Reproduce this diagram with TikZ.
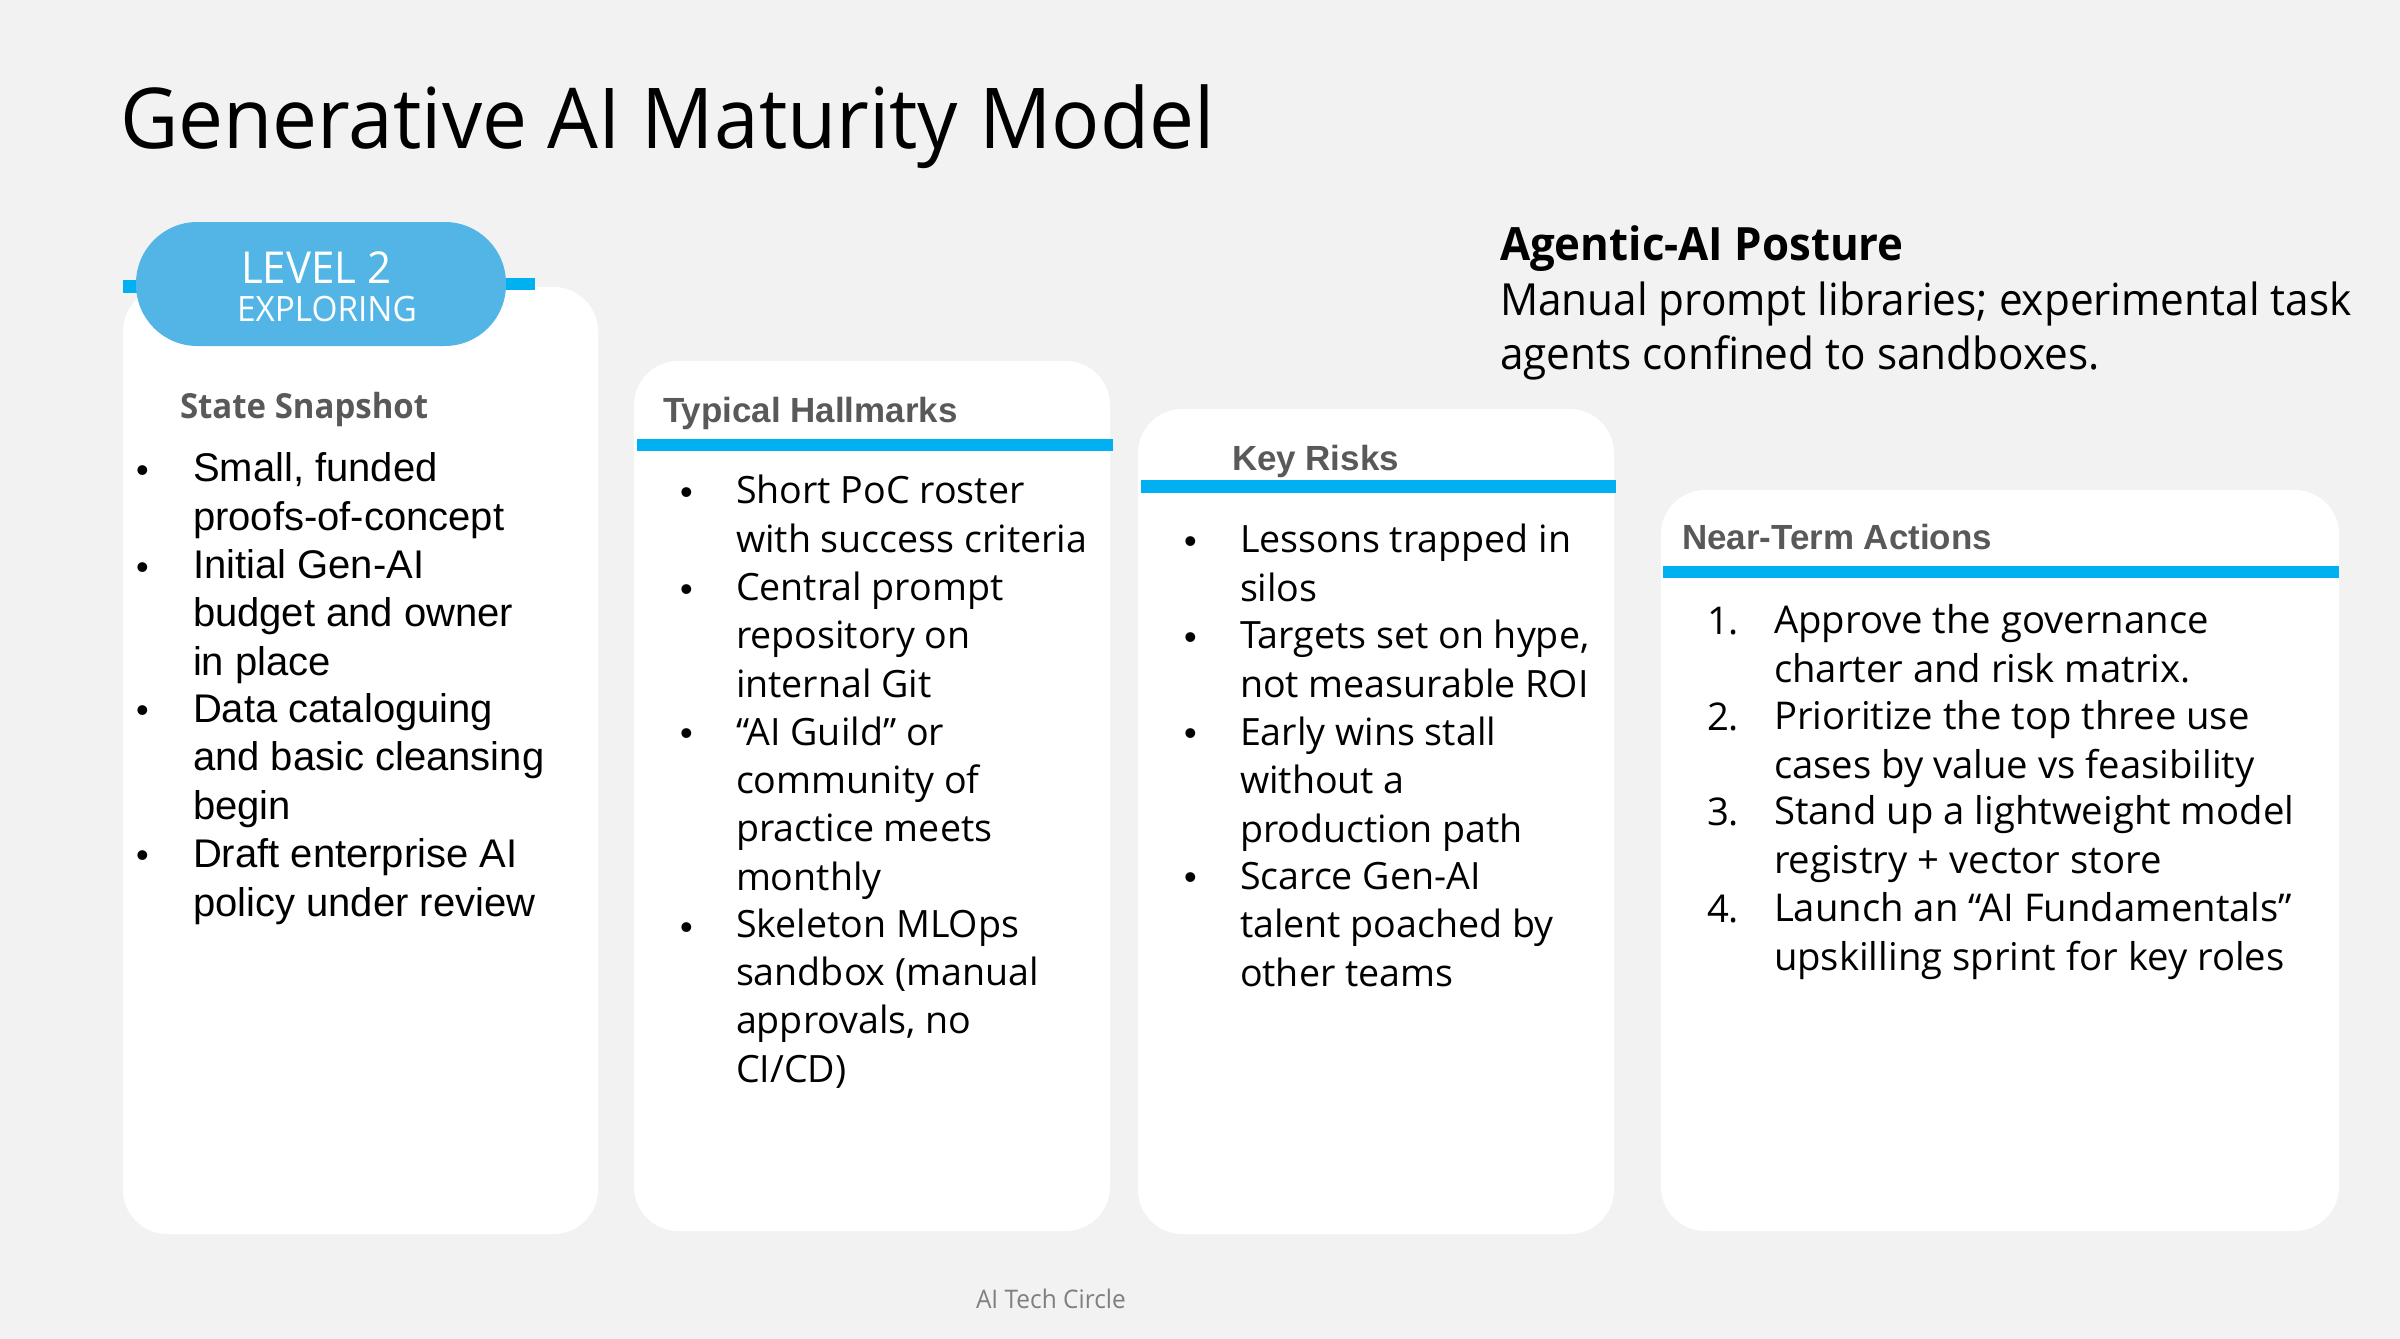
\documentclass[tikz,border=0pt]{standalone}
\usepackage{fontspec}
\setmainfont{Open Sans}[FakeStretch=0.955]
\newfontfamily\arialf{Liberation Sans}
\newfontfamily\bodyf{Open Sans}
\definecolor{pagebg}{HTML}{F2F2F2}
\definecolor{barblue}{HTML}{00B0F0}
\definecolor{pillblue}{HTML}{52B5E6}
\definecolor{headgray}{HTML}{595959}
\definecolor{footgray}{HTML}{7F7F7F}
\tikzset{
  x=0.75pt,y=-0.75pt,
  every node/.style={inner sep=0pt,outer sep=0pt},
  bodytext/.style={anchor=base west,align=left,text=black,font=\bodyf\fontsize{28.2}{36.2}\selectfont},
  widetext/.style={anchor=base west,align=left,text=black,font=\bodyf\fontsize{28.7}{36.1}\selectfont},
  arialtext/.style={anchor=base west,align=left,text=black,font=\arialf\fontsize{30}{36.2}\selectfont},
  bulletmark/.style={anchor=base west,text=black,font=\arialf\fontsize{27}{36}\selectfont},
  cardhead/.style={anchor=base west,text=headgray,font=\arialf\bfseries\fontsize{26.2}{30}\selectfont},
  bar/.style={fill=barblue},
  cardfill/.style={fill=white},
}
\newcommand{\cardshape}[4]{%
  \fill[cardfill] ({#1+44},#2) -- ({#3-44},#2)
    .. controls ({#3-20},#2) and (#3,{#2+20}) .. (#3,{#2+44})
    -- (#3,{#4-44})
    .. controls (#3,{#4-20}) and ({#3-20},#4) .. ({#3-44},#4)
    -- ({#1+44},#4)
    .. controls ({#1+20},#4) and (#1,{#4-20}) .. (#1,{#4-44})
    -- (#1,{#2+44})
    .. controls (#1,{#2+20}) and ({#1+20},#2) .. ({#1+44},#2) -- cycle;}
\begin{document}
\begin{tikzpicture}
\fill[pagebg] (0,0) rectangle (2400,1339);
\useasboundingbox (0,0) rectangle (2400,1339);

% title and posture
\node[anchor=base west,font=\fontsize{63}{76}\selectfont] (title) at (120,148) {Generative AI Maturity Model};
\node[anchor=base west,font=\fontsize{34.4}{40}\selectfont\bfseries] (posturehead) at (1500,260) {Agentic-AI Posture};
\node[anchor=base west,font=\fontsize{33.2}{40}\selectfont] (posture1) at (1500,315) {Manual prompt libraries; experimental task};
\node[anchor=base west,font=\fontsize{33.2}{40}\selectfont] (posture2) at (1500,369) {agents confined to sandboxes.};

% cards
\cardshape{123}{287}{598}{1234}
\cardshape{634}{361}{1110}{1231}
\cardshape{1138}{409}{1614}{1234}
\cardshape{1661}{490}{2339}{1231}

% bars
\fill[bar] (123,280) rectangle (140,293);
\fill[bar] (500,278) rectangle (535,290);
\fill[bar] (637,439) rectangle (1113,451);
\fill[bar] (1141,480) rectangle (1616,493);
\fill[bar] (1663,566) rectangle (2339,578);

% level pill
\fill[pillblue,rounded corners=46pt] (136,222) rectangle (506,346);
\node[anchor=base west,text=white,font=\fontsize{33}{40}\selectfont] (level) at (241,283) {LEVEL 2};
\node[anchor=base west,text=white,font=\fontsize{26.2}{32}\selectfont] (exploring) at (237,321) {EXPLORING};

% headings
\node[anchor=base west,text=headgray,font=\bfseries\fontsize{25.9}{30}\selectfont] (h1) at (180,418) {State Snapshot};
\node[cardhead] (h2) at (663,422) {Typical Hallmarks};
\node[cardhead] (h3) at (1232,470) {Key Risks};
\node[cardhead] (h4) at (1682,549) {Near-Term Actions};

% card 1 (Arial)
\node[bulletmark] (b1a) at (136,482) {•};
\node[arialtext] (t1a) at (193,530) {Small, funded\\proofs-of-concept};
\node[bulletmark] (b1b) at (136,579) {•};
\node[arialtext] (t1b) at (193,675) {Initial Gen-AI\\budget and owner\\in place};
\node[bulletmark] (b1c) at (136,722) {•};
\node[arialtext] (t1c) at (193,819) {Data cataloguing\\and basic cleansing\\begin};
\node[bulletmark] (b1d) at (136,867) {•};
\node[arialtext] (t1d) at (193,916) {Draft enterprise AI\\policy under review};

% card 2
\node[bulletmark] (b2a) at (680,504) {•};
\node[bodytext] (t2a) at (736,552) {Short PoC roster\\with success criteria};
\node[bulletmark] (b2b) at (680,601) {•};
\node[bodytext] (t2b) at (736,697) {Central prompt\\repository on\\internal Git};
\node[bulletmark] (b2c) at (680,745) {•};
\node[bodytext] (t2c) at (736,890) {“AI Guild” or\\community of\\practice meets\\monthly};
\node[bulletmark] (b2d) at (680,939) {•};
\node[bodytext] (t2d) at (736,1082) {Skeleton MLOps\\sandbox (manual\\approvals, no\\CI/CD)};

% card 3
\node[bulletmark] (b3a) at (1184,553) {•};
\node[bodytext] (t3a) at (1240,601) {Lessons trapped in\\silos};
\node[bulletmark] (b3b) at (1184,649) {•};
\node[bodytext] (t3b) at (1240,697) {Targets set on hype,\\not measurable ROI};
\node[bulletmark] (b3c) at (1184,745) {•};
\node[bodytext] (t3c) at (1240,842) {Early wins stall\\without a\\production path};
\node[bulletmark] (b3d) at (1184,889) {•};
\node[bodytext] (t3d) at (1240,986) {Scarce Gen-AI\\talent poached by\\other teams};

% card 4
\node[widetext] (n4a) at (1707,634) {1.};
\node[widetext] (t4a) at (1774,682) {Approve the governance\\charter and risk matrix.};
\node[widetext] (n4b) at (1707,730) {2.};
\node[widetext] (t4b) at (1774,778) {Prioritize the top three use\\cases by value vs feasibility};
\node[widetext] (n4c) at (1707,825) {3.};
\node[widetext] (t4c) at (1774,873) {Stand up a lightweight model\\registry + vector store};
\node[widetext] (n4d) at (1707,922) {4.};
\node[widetext] (t4d) at (1774,970) {Launch an “AI Fundamentals”\\upskilling sprint for key roles};

% footer
\node[anchor=base west,text=footgray,font=\fontsize{19.2}{22}\selectfont] (foot) at (976,1308) {AI Tech Circle};
\end{tikzpicture}
\end{document}
